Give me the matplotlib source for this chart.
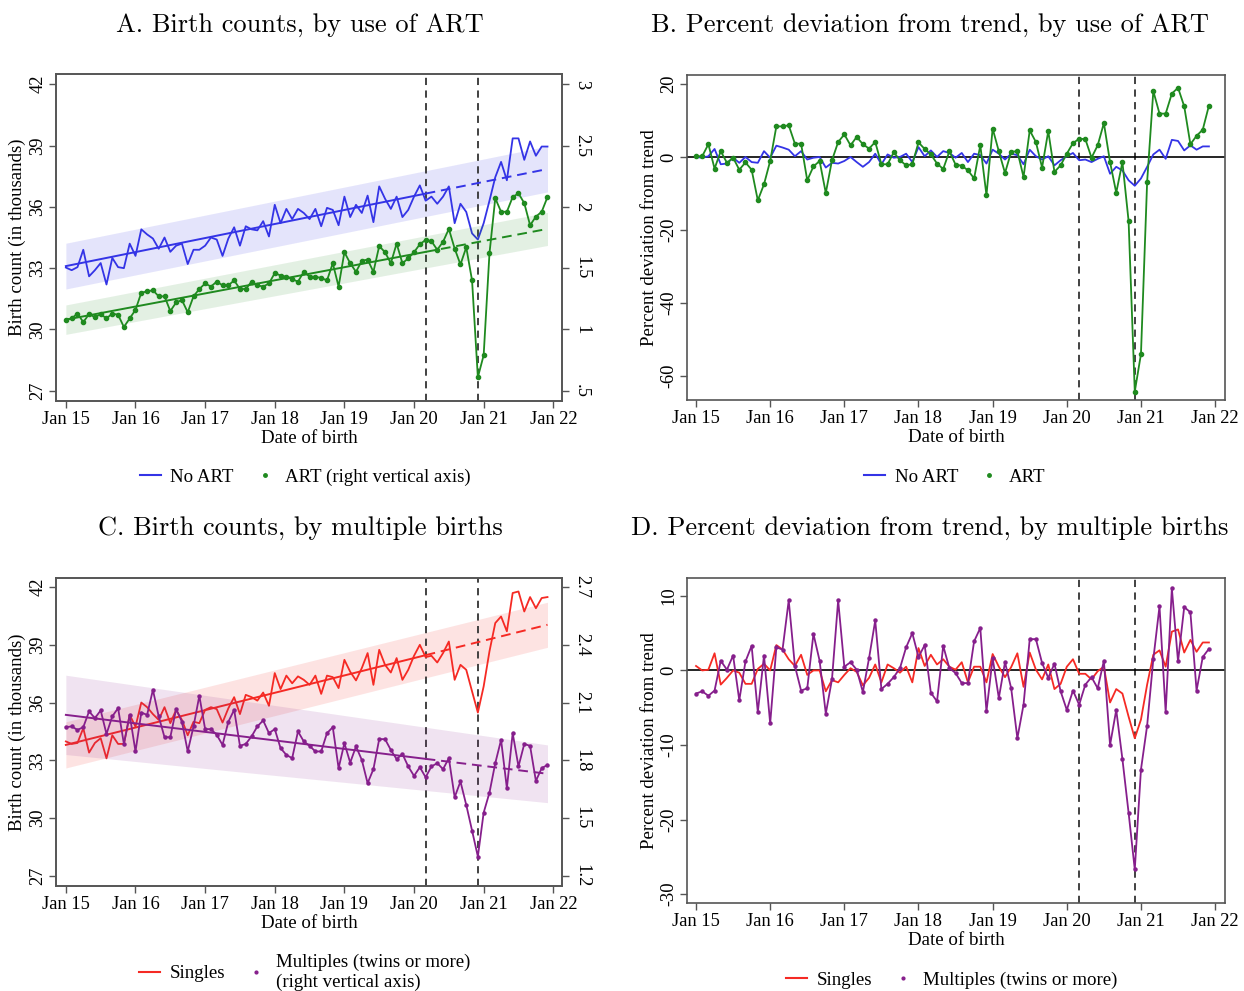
import numpy as np
import matplotlib
matplotlib.use("Agg")
import matplotlib.pyplot as plt
from matplotlib.lines import Line2D

plt.rcParams['font.family'] = ['Liberation Serif', 'DejaVu Serif']
plt.rcParams['axes.unicode_minus'] = False

# ---- data (monthly, Jan 2015 - Dec 2021) ----
months = np.arange(84)
tick_pos = np.arange(0, 85, 12)
tick_labels = ['Jan 15', 'Jan 16', 'Jan 17', 'Jan 18', 'Jan 19', 'Jan 20', 'Jan 21', 'Jan 22']
event_months = [62, 71]   # Mar 2020, Dec 2020
trend_break = 62

# panel A: birth counts (thousands)
no_art = [33.03, 32.9, 33.05, 33.9, 32.6, 32.9, 33.25, 32.2, 33.5, 33.05, 33.0, 34.2,
          33.6, 34.9, 34.65, 34.45, 33.95, 34.5, 33.8, 34.1, 34.2, 33.2, 33.9, 33.9,
          34.1, 34.5, 34.4, 33.6, 34.45, 35.0, 34.1, 35.05, 34.9, 34.85, 35.3, 34.55,
          36.1, 35.2, 35.9, 35.4, 35.9, 35.7, 35.4, 35.9, 35.05, 35.95, 35.85, 35.1,
          36.5, 35.5, 36.1, 35.7, 36.55, 35.25, 37.0, 36.4, 35.9, 36.5, 35.5, 35.85,
          36.5, 37.05, 36.3, 36.5, 36.15, 36.5, 37.0, 35.2, 36.15, 35.75, 34.7, 34.4,
          35.2, 36.3, 37.45, 38.2, 37.3, 39.35, 39.35, 38.3, 39.2, 38.5, 38.95, 38.95]
art = [1.08, 1.09, 1.13, 1.06, 1.125, 1.10, 1.125, 1.09, 1.13, 1.12, 1.02, 1.09,
       1.16, 1.30, 1.31, 1.32, 1.27, 1.27, 1.15, 1.22, 1.24, 1.14, 1.27, 1.33,
       1.375, 1.35, 1.39, 1.36, 1.36, 1.40, 1.33, 1.33, 1.39, 1.36, 1.35, 1.375,
       1.46, 1.44, 1.43, 1.41, 1.39, 1.47, 1.43, 1.43, 1.42, 1.40, 1.54, 1.35,
       1.63, 1.54, 1.47, 1.56, 1.57, 1.47, 1.68, 1.63, 1.54, 1.70, 1.54, 1.58,
       1.63, 1.695, 1.73, 1.72, 1.65, 1.715, 1.82, 1.66, 1.53, 1.67, 1.40, 0.61,
       0.79, 1.62, 2.07, 1.96, 1.96, 2.08, 2.11, 2.03, 1.85, 1.92, 1.96, 2.08]
no_art_trend = [33.1, 37.85]      # value at first and last month
no_art_band = [1.12, 1.12]        # half width of shaded band
art_trend = [1.08, 1.82]
art_band = [0.12, 0.135]

# panel B: percent deviation from trend
no_art_dev = [0, -0.2, 0.2, 2.2, -2.0, -1.8, -0.2, -1.6, 0, -1.4, -1.6, 1.6,
              -0.2, 3.1, 2.6, 2.0, 0.2, 1.6, -0.7, -0.2, 0, -2.9, -1.6, -1.8,
              -1.1, 0, -1.4, -2.7, -1.4, 0.9, -2.0, 0.7, -0.2, 0, 0.9, -1.4,
              2.7, 0.2, 1.8, 0, 1.6, 1.1, -0.2, 1.1, -1.4, 0.9, 0.5, -1.8,
              2.0, 0.9, -0.7, 0.9, 0.5, -2.0, 2.0, 0.2, -0.7, 0.2, -2.3, -0.9,
              0.2, 1.1, -0.9, -0.7, -1.4, -0.5, 0.2, -4.6, -2.7, -3.7, -6.4, -7.9,
              -5.9, -2.7, 0.7, 2.0, -0.5, 4.7, 4.4, 1.8, 3.2, 2.0, 2.9, 2.9]
art_dev = [0.2, 0.2, 3.5, -3.2, 1.6, -1.6, -0.2, -3.5, -1.5, -3.5, -11.9, -7.5,
           -1.1, 8.4, 8.4, 8.7, 3.65, 3.65, -6.4, -2.6, -1.1, -9.9, -0.9, 4.1,
           6.2, 3.2, 5.5, 3.5, 2.3, 4.1, -2.0, -2.0, 1.3, -0.9, -2.3, -2.0,
           4.0, 2.2, 0.7, -1.8, -3.3, 1.55, -2.1, -2.4, -3.65, -5.9, 3.2, -10.5,
           7.8, 1.55, -4.4, 1.4, 1.6, -5.5, 7.3, 4.1, -2.9, 7.1, -4.1, -2.3,
           0.9, 3.8, 5.0, 4.9, -0.2, 3.2, 9.3, -1.4, -9.8, -1.4, -17.6, -64.4,
           -54.1, -6.8, 18.1, 11.9, 11.9, 17.4, 19.0, 13.9, 3.5, 5.8, 7.5, 14.1]

# panel C: birth counts by plurality
singles = [33.98, 33.85, 33.9, 34.67, 33.4, 33.9, 34.15, 33.1, 34.3, 33.85, 33.85, 35.36,
           34.75, 36.0, 35.76, 35.4, 35.1, 35.76, 34.93, 35.62, 35.1, 34.3, 35.0, 34.93,
           35.62, 35.76, 35.66, 34.96, 35.7, 36.28, 35.4, 36.4, 36.28, 36.1, 36.52, 35.83,
           37.53, 36.7, 37.4, 37.0, 37.36, 37.18, 36.92, 37.4, 36.45, 37.4, 37.32, 36.75,
           38.22, 37.6, 37.15, 37.79, 38.57, 36.92, 38.74, 37.96, 37.56, 38.31, 37.18, 37.7,
           38.43, 39.0, 38.36, 38.43, 38.08, 38.57, 39.17, 37.18, 37.96, 37.7, 36.58, 35.48,
           36.84, 38.66, 40.13, 40.47, 39.7, 41.69, 41.77, 40.73, 41.48, 40.9, 41.43, 41.48]
multiples = [1.972, 1.976, 1.958, 1.972, 2.054, 2.019, 2.059, 1.937, 2.028, 2.071, 1.885, 2.036,
             1.846, 2.048, 2.036, 2.166, 2.028, 1.92, 1.92, 2.066, 2.0, 1.846, 1.976, 2.135,
             1.962, 1.962, 1.932, 1.88, 2.0, 2.062, 1.875, 1.885, 1.924, 1.976, 2.007, 1.941,
             1.962, 1.863, 1.828, 1.811, 1.95, 1.898, 1.875, 1.846, 1.846, 1.941, 1.972, 1.759,
             1.889, 1.788, 1.872, 1.802, 1.681, 1.754, 1.91, 1.91, 1.854, 1.806, 1.833, 1.768,
             1.719, 1.764, 1.712, 1.768, 1.785, 1.754, 1.811, 1.608, 1.69, 1.568, 1.435, 1.3,
             1.528, 1.632, 1.785, 1.906, 1.655, 1.941, 1.768, 1.885, 1.875, 1.693, 1.759, 1.776]
singles_trend = [33.8, 40.04]
singles_band = [1.2, 1.17]
multiples_trend = [2.036, 1.73]
multiples_band = [0.206, 0.15]

# panel D: percent deviation from trend
singles_dev = [0.6, 0.0, 0.1, 2.3, -1.9, -1.0, 0.0, -0.3, -1.8, -1.8, 0.2, 0.9,
               0.0, 3.4, 2.8, 1.5, 0.6, 2.1, -0.6, 0.0, 0.0, -2.8, -1.3, -1.6,
               -0.6, 0.3, -0.2, -2.0, -1.0, 0.8, -1.6, 0.8, 0.3, -0.3, 0.5, -1.6,
               3.0, 0.6, 2.1, 0.8, 1.5, 0.5, 0.1, 1.1, -1.6, 0.5, 0.5, -1.6,
               2.2, 0.5, -0.9, 0.45, 2.3, -2.2, 2.4, 0.1, -1.2, 0.8, -2.5, -1.8,
               0.5, 1.5, -0.45, -0.45, -1.2, -0.1, 0.5, -4.3, -2.5, -3.1, -6.2, -9.1,
               -6.6, -1.9, 2.1, 2.7, 0.5, 5.2, 5.5, 2.4, 4.1, 2.5, 3.75, 3.75]
multiples_dev = [-3.1, -2.8, -3.4, -2.7, 1.3, 0.1, 2.0, -4.0, 1.2, 3.3, -5.6, 2.0,
                 -7.1, 3.1, 2.8, 9.4, 0.6, -2.7, -2.4, 4.9, 1.3, -5.8, -1.2, 9.4,
                 0.5, 1.1, 0.1, -2.9, 1.65, 6.7, -2.5, -1.8, -0.9, 0.3, 3.1, 5.0,
                 1.8, 3.4, -3.0, -4.15, 3.3, 0.3, -0.35, -1.7, -1.7, 3.9, 5.7, -5.5,
                 1.65, -3.7, 1.1, -2.4, -9.1, -4.6, 4.2, 4.2, 1.0, -1.0, 0.9, -2.8,
                 -5.3, -2.7, -4.6, -1.9, -0.9, -2.4, 1.3, -10.0, -5.3, -11.9, -19.1, -26.7,
                 -13.3, -7.4, 1.5, 8.6, -5.6, 11.0, 1.2, 8.5, 7.8, -2.7, 1.8, 2.9]

# ---- style ----
BLUE = '#3434e6'
GREEN = '#1f8a1f'
RED = '#f52a24'
PURPLE = '#861f8c'
SPINE = '#555555'
TICK_FS = 13.3
LABEL_FS = 13.6
TITLE_FS = 19

W, H = 1244, 991
fig = plt.figure(figsize=(W / 100, H / 100), dpi=100)


def px_axes(l, t, r, b):
    return fig.add_axes([l / W, 1 - b / H, (r - l) / W, (b - t) / H])


def style_axis(ax, xlim):
    ax.set_xlim(*xlim)
    ax.set_xticks(tick_pos)
    ax.set_xticklabels(tick_labels, fontsize=TICK_FS)
    ax.tick_params(axis='both', direction='out', length=5, width=1, color=SPINE, pad=2)
    ax.tick_params(axis='y', labelrotation=90, labelsize=TICK_FS)
    for lab in ax.get_yticklabels():
        lab.set_va('center')
    for s in ax.spines.values():
        s.set_color(SPINE)
        s.set_linewidth(1.2)
    ax.set_xlabel('Date of birth', fontsize=LABEL_FS, labelpad=1.5)


def events(ax):
    for m in event_months:
        ax.axvline(m, color='#333333', lw=1.3, ls=(0, (4, 3)), zorder=1)


def trend(ax, ends, band, color, alpha):
    xs = [0, 83]
    lo = [ends[0] - band[0], ends[1] - band[1]]
    hi = [ends[0] + band[0], ends[1] + band[1]]
    ax.fill_between(xs, lo, hi, color=color, alpha=alpha, lw=0, zorder=0)
    mid = np.interp(trend_break, xs, ends)
    ax.plot([0, trend_break], [ends[0], mid], color=color, lw=1.4, zorder=2)
    ax.plot([trend_break, 83], [mid, ends[1]], color=color, lw=1.4, ls=(0, (5, 3)), zorder=2)


def right_axis(ax2, ticks, labels, ylim):
    ax2.set_ylim(*ylim)
    ax2.set_yticks(ticks)
    ax2.set_yticklabels(labels, fontsize=TICK_FS)
    ax2.tick_params(axis='y', direction='out', length=5, width=1, color=SPINE,
                    labelrotation=-90, pad=3)
    for lab in ax2.get_yticklabels():
        lab.set_va('center')
    for s in ax2.spines.values():
        s.set_color(SPINE)
        s.set_linewidth(1.2)


def legend(handles, labels, cx, cy, **kw):
    fig.legend(handles, labels, loc='center', bbox_to_anchor=(cx / W, 1 - cy / H),
               ncol=2, frameon=False, fontsize=LABEL_FS, handlelength=1.1,
               columnspacing=1.1, handletextpad=0.5, **kw)


# ---- Panel A ----
axA = px_axes(56, 74, 562, 401)
style_axis(axA, (-1.7, 85.5))
axA.set_ylim(26.5, 42.5)
axA.set_yticks([27, 30, 33, 36, 39, 42])
axA.set_ylabel('Birth count (in thousands)', fontsize=LABEL_FS, labelpad=2)
events(axA)
trend(axA, no_art_trend, no_art_band, BLUE, 0.13)
axA.plot(months, no_art, color=BLUE, lw=1.3, zorder=3)
axA2 = axA.twinx()
right_axis(axA2, [0.5, 1, 1.5, 2, 2.5, 3], ['.5', '1', '1.5', '2', '2.5', '3'],
           (0.5 + (26.5 - 27) / 6, 0.5 + (42.5 - 27) / 6))
trend(axA2, art_trend, art_band, GREEN, 0.12)
axA2.plot(months, art, color=GREEN, lw=1.3, marker='o', ms=3, zorder=3)
fig.text(300 / W, 1 - 25 / H, 'A. Birth counts, by use of ART', family='cmr10',
         fontsize=TITLE_FS, ha='center', va='center')
legend([Line2D([], [], color=BLUE, lw=1.5),
        Line2D([], [], color=GREEN, marker='o', ms=2.5, ls='none')],
       ['No ART', 'ART (right vertical axis)'], 305, 477)

# ---- Panel B ----
axB = px_axes(687, 75, 1225, 400)
style_axis(axB, (-1.46, 85.6))
axB.set_ylim(-66.7, 22.5)
axB.set_yticks([-60, -40, -20, 0, 20])
axB.set_ylabel('Percent deviation from trend', fontsize=LABEL_FS, labelpad=2)
events(axB)
axB.axhline(0, color='black', lw=1.2, zorder=2)
axB.plot(months, no_art_dev, color=BLUE, lw=1.3, zorder=3)
axB.plot(months, art_dev, color=GREEN, lw=1.3, marker='o', ms=3, zorder=4)
fig.text(930 / W, 1 - 25 / H, 'B. Percent deviation from trend, by use of ART',
         family='cmr10', fontsize=TITLE_FS, ha='center', va='center')
legend([Line2D([], [], color=BLUE, lw=1.5),
        Line2D([], [], color=GREEN, marker='o', ms=2.5, ls='none')],
       ['No ART', 'ART'], 955, 477)

# ---- Panel C ----
axC = px_axes(56, 578, 562, 886)
style_axis(axC, (-1.7, 85.5))
axC.set_ylim(26.47, 42.47)
axC.set_yticks([27, 30, 33, 36, 39, 42])
axC.set_ylabel('Birth count (in thousands)', fontsize=LABEL_FS, labelpad=2)
events(axC)
trend(axC, singles_trend, singles_band, RED, 0.13)
axC.plot(months, singles, color=RED, lw=1.3, zorder=3)
axC2 = axC.twinx()
right_axis(axC2, [1.2, 1.5, 1.8, 2.1, 2.4, 2.7], ['1.2', '1.5', '1.8', '2.1', '2.4', '2.7'],
           (1.2 + (26.47 - 27) * 0.1, 1.2 + (42.47 - 27) * 0.1))
trend(axC2, multiples_trend, multiples_band, PURPLE, 0.12)
axC2.plot(months, multiples, color=PURPLE, lw=1.3, marker='o', ms=2.2, zorder=3)
fig.text(300 / W, 1 - 528 / H, 'C. Birth counts, by multiple births', family='cmr10',
         fontsize=TITLE_FS, ha='center', va='center')
legend([Line2D([], [], color=RED, lw=1.5),
        Line2D([], [], color=PURPLE, marker='o', ms=2, ls='none')],
       ['Singles', 'Multiples (twins or more)\n(right vertical axis)'], 305, 972,
       labelspacing=0)

# ---- Panel D ----
axD = px_axes(687, 578, 1225, 903)
style_axis(axD, (-1.46, 85.6))
axD.set_ylim(-31.2, 12.4)
axD.set_yticks([-30, -20, -10, 0, 10])
axD.set_ylabel('Percent deviation from trend', fontsize=LABEL_FS, labelpad=2)
events(axD)
axD.axhline(0, color='black', lw=1.2, zorder=2)
axD.plot(months, singles_dev, color=RED, lw=1.3, zorder=3)
axD.plot(months, multiples_dev, color=PURPLE, lw=1.3, marker='o', ms=2.2, zorder=4)
fig.text(930 / W, 1 - 528 / H, 'D. Percent deviation from trend, by multiple births',
         family='cmr10', fontsize=TITLE_FS, ha='center', va='center')
legend([Line2D([], [], color=RED, lw=1.5),
        Line2D([], [], color=PURPLE, marker='o', ms=2, ls='none')],
       ['Singles', 'Multiples (twins or more)'], 952, 980)

fig.savefig('out.png', dpi=100)
